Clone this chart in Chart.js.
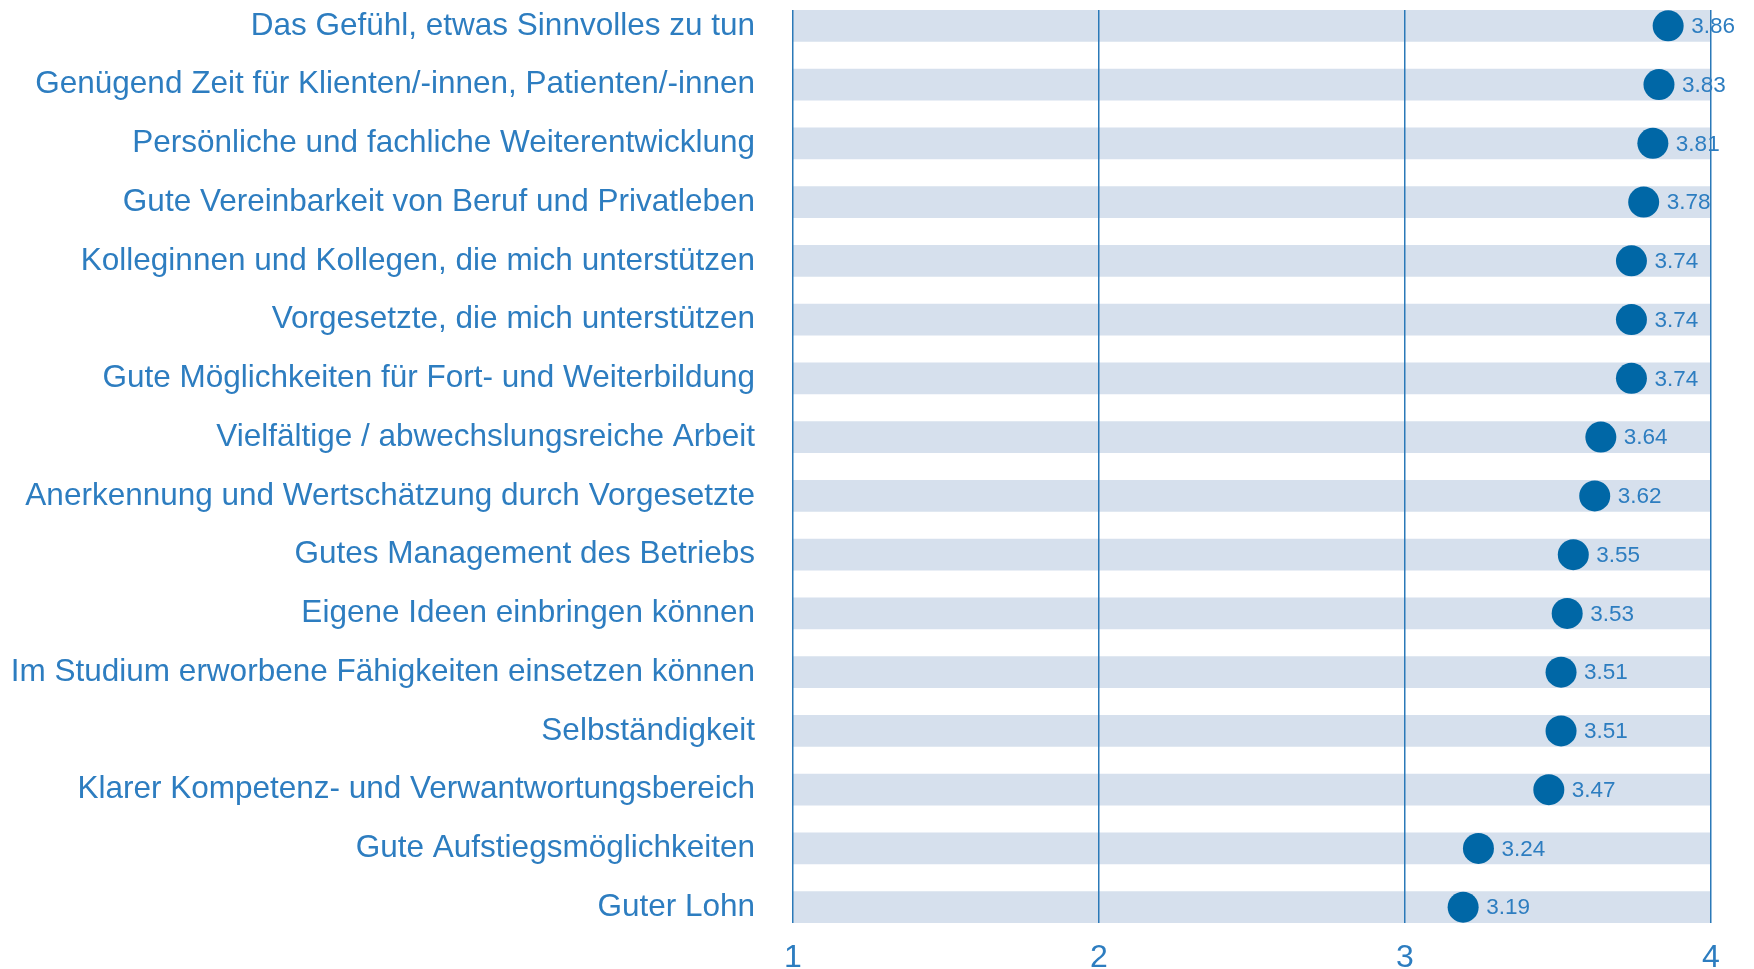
<!DOCTYPE html>
<html>
<head>
<meta charset="utf-8">
<script src="https://cdn.jsdelivr.net/npm/chart.js@4/dist/chart.umd.min.js"></script>
<style>
html,body{margin:0;padding:0;background:#fff;}
#wrap{width:1754px;height:969px;}
</style>
</head>
<body>
<div id="wrap"><canvas id="c" width="1754" height="969"></canvas></div>
<script>
const categories = [
  "Das Gefühl, etwas Sinnvolles zu tun",
  "Genügend Zeit für Klienten/-innen, Patienten/-innen",
  "Persönliche und fachliche Weiterentwicklung",
  "Gute Vereinbarkeit von Beruf und Privatleben",
  "Kolleginnen und Kollegen, die mich unterstützen",
  "Vorgesetzte, die mich unterstützen",
  "Gute Möglichkeiten für Fort- und Weiterbildung",
  "Vielfältige / abwechslungsreiche Arbeit",
  "Anerkennung und Wertschätzung durch Vorgesetzte",
  "Gutes Management des Betriebs",
  "Eigene Ideen einbringen können",
  "Im Studium erworbene Fähigkeiten einsetzen können",
  "Selbständigkeit",
  "Klarer Kompetenz- und Verwantwortungsbereich",
  "Gute Aufstiegsmöglichkeiten",
  "Guter Lohn"
];
const values = [3.86, 3.83, 3.81, 3.78, 3.74, 3.74, 3.74, 3.64, 3.62, 3.55, 3.53, 3.51, 3.51, 3.47, 3.24, 3.19];
const scaleMin = 1;
const scaleMax = 4;
const xTicks = [1, 2, 3, 4];

const textColor = '#2d7dc0';
const dotColor = '#0067a6';
const bandColor = '#d6e0ed';
const gridColor = '#2b79b8';

const valueLabels = {
  id: 'valueLabels',
  afterDraw(chart) {
    const ctx = chart.ctx;
    const meta = chart.getDatasetMeta(0);
    ctx.save();
    ctx.font = '22.5px "Liberation Sans", Arial, sans-serif';
    ctx.fillStyle = textColor;
    ctx.textAlign = 'left';
    ctx.textBaseline = 'middle';
    meta.data.forEach((pt, i) => {
      ctx.fillText(values[i].toFixed(2), pt.x + 23, pt.y + 1);
    });
    ctx.restore();
  }
};

const half = 0.27;

new Chart(document.getElementById('c'), {
  data: {
    datasets: [
      {
        type: 'scatter',
        order: 0,
        data: values.map((v, i) => ({x: v, y: i})),
        backgroundColor: dotColor,
        borderWidth: 0,
        pointRadius: 15.5,
        pointHoverRadius: 15.5
      },
      {
        type: 'bar',
        order: 1,
        indexAxis: 'y',
        data: categories.map((c, i) => ({x: [scaleMin, scaleMax], y: i})),
        backgroundColor: bandColor,
        borderWidth: 0,
        barThickness: 31
      }
    ]
  },
  plugins: [valueLabels],
  options: {
    responsive: false,
    animation: false,
    layout: {autoPadding: false, padding: {top: 10, right: 43, left: 0, bottom: 0}},
    plugins: {legend: {display: false}, tooltip: {enabled: false}},
    scales: {
      x: {
        type: 'linear',
        position: 'bottom',
        offset: false,
        min: scaleMin,
        max: scaleMax,
        afterBuildTicks(scale) { scale.ticks = xTicks.map(v => ({value: v})); },
        afterFit(scale) { scale.height = 46; scale.paddingLeft = 0; scale.paddingRight = 0; },
        grid: {display: true, offset: false, z: 1, color: gridColor, lineWidth: 1.5, drawTicks: false},
        border: {display: false},
        ticks: {
          color: textColor,
          font: {family: '"Liberation Sans", Arial, sans-serif', size: 32},
          padding: 16,
          maxRotation: 0
        }
      },
      y: {
        type: 'linear',
        position: 'left',
        offset: false,
        reverse: true,
        min: -half,
        max: categories.length - 1 + half,
        afterBuildTicks(scale) { scale.ticks = categories.map((c, i) => ({value: i})); },
        afterFit(scale) { scale.width = 793; scale.paddingTop = 0; scale.paddingBottom = 0; },
        grid: {display: false, offset: false, drawTicks: false},
        border: {display: false},
        ticks: {
          color: textColor,
          font: {family: '"Liberation Sans", Arial, sans-serif', size: 31.5},
          padding: 38,
          autoSkip: false,
          callback(v) { return categories[v]; }
        }
      }
    }
  }
});
</script>
</body>
</html>
